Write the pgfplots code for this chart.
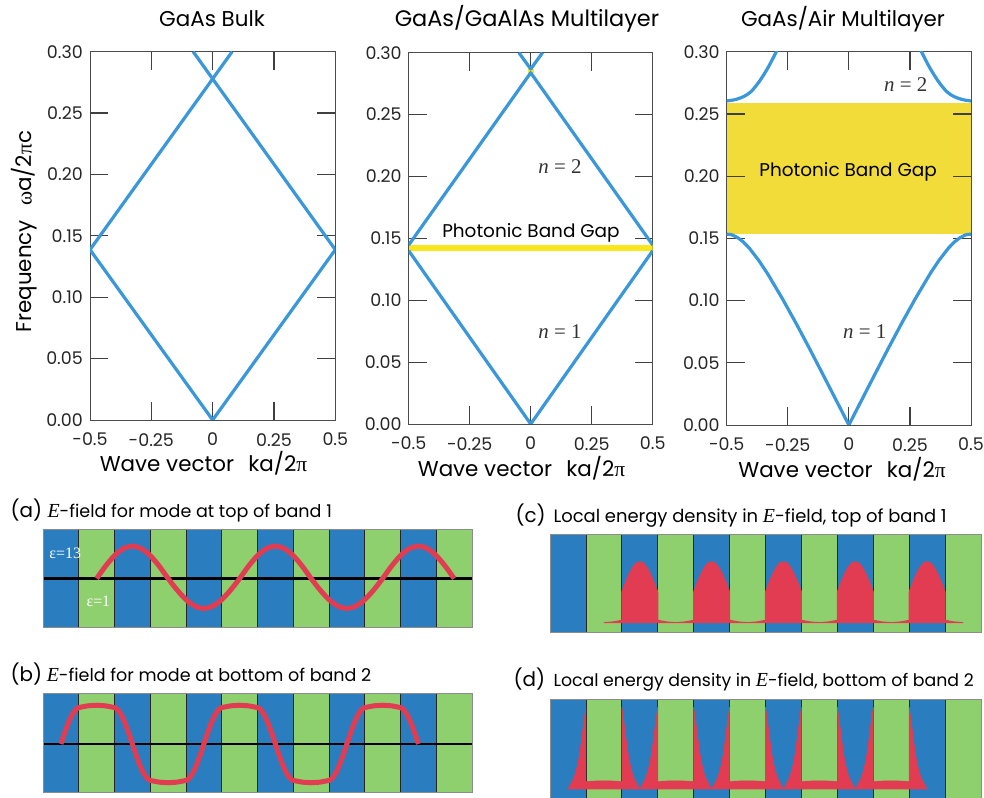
\documentclass[border=0pt]{standalone}
\usepackage{pgfplots}
\pgfplotsset{compat=1.18}
\usepackage{fontspec}
\setmainfont{Poppins}
\newfontfamily\serif{Liberation Serif}

\definecolor{bandblue}{HTML}{3A98DA}
\definecolor{gapyellow}{HTML}{F8E71C}
\definecolor{gapyellowB}{HTML}{F2DC3A}
\definecolor{layerblue}{HTML}{2A7EC0}
\definecolor{layergreen}{HTML}{8FD06E}
\definecolor{fieldred}{HTML}{E23C52}

\newcommand\fs[1]{\fontsize{#1}{#1}\selectfont}

\pgfplotsset{
  bandaxis/.style={
    scale only axis, width=245bp, height=370bp,
    xmin=-0.5, xmax=0.5, ymin=0, ymax=0.30,
    xtick={-0.5,-0.25,0,0.25,0.5}, xticklabels={-0.5,-0.25,0,0.25,0.5},
    ytick={0,0.05,0.1,0.15,0.2,0.25,0.3},
    yticklabels={0.00,0.05,0.10,0.15,0.20,0.25,0.30},
    major tick length=0pt,
    axis line style={draw=black!70, line width=0.8bp},
    ticklabel style={font=\fs{17.5}, inner sep=0pt, text=black!85},
    xticklabel style={anchor=north, yshift=-13bp},
    yticklabel style={anchor=east, xshift=-7bp},
  },
  bandline/.style={bandblue, line width=3.2bp, line join=round},
  layeraxis/.style={
    scale only axis, width=429bp, height=98bp,
    xmin=0, xmax=12,
    xtick=\empty, ytick=\empty,
    axis line style={draw=black!45, line width=0.8bp},
    axis on top,
  },
}

% inward tick marks on all four sides of a band diagram (lengths in data units)
\newcommand\bandticks{%
  \draw[black!75, line width=1.2bp]
    (axis cs:-0.25,0) -- (axis cs:-0.25,0.0146)
    (axis cs:0,0) -- (axis cs:0,0.0146)
    (axis cs:0.25,0) -- (axis cs:0.25,0.0146)
    (axis cs:-0.25,0.3) -- (axis cs:-0.25,0.2854)
    (axis cs:0,0.3) -- (axis cs:0,0.2854)
    (axis cs:0.25,0.3) -- (axis cs:0.25,0.2854)
    (axis cs:-0.5,0.05) -- (axis cs:-0.4265,0.05)
    (axis cs:-0.5,0.1) -- (axis cs:-0.4265,0.1)
    (axis cs:-0.5,0.15) -- (axis cs:-0.4265,0.15)
    (axis cs:-0.5,0.2) -- (axis cs:-0.4265,0.2)
    (axis cs:-0.5,0.25) -- (axis cs:-0.4265,0.25)
    (axis cs:0.5,0.05) -- (axis cs:0.4265,0.05)
    (axis cs:0.5,0.1) -- (axis cs:0.4265,0.1)
    (axis cs:0.5,0.15) -- (axis cs:0.4265,0.15)
    (axis cs:0.5,0.2) -- (axis cs:0.4265,0.2)
    (axis cs:0.5,0.25) -- (axis cs:0.4265,0.25);
}

% alternating dielectric layers, epsilon = 13 (blue) and epsilon = 1 (green)
\newcommand\layers{%
  \fill[layergreen] (rel axis cs:0,0) rectangle (rel axis cs:1,1);
  \fill[layerblue] (rel axis cs:0,0) rectangle (rel axis cs:0.083333,1);
  \fill[layerblue] (rel axis cs:0.166667,0) rectangle (rel axis cs:0.25,1);
  \fill[layerblue] (rel axis cs:0.333333,0) rectangle (rel axis cs:0.416667,1);
  \fill[layerblue] (rel axis cs:0.5,0) rectangle (rel axis cs:0.583333,1);
  \fill[layerblue] (rel axis cs:0.666667,0) rectangle (rel axis cs:0.75,1);
  \fill[layerblue] (rel axis cs:0.833333,0) rectangle (rel axis cs:0.916667,1);
  \draw[black!85, line width=0.7bp]
    (rel axis cs:0.083333,0) -- (rel axis cs:0.083333,1)
    (rel axis cs:0.166667,0) -- (rel axis cs:0.166667,1)
    (rel axis cs:0.25,0) -- (rel axis cs:0.25,1)
    (rel axis cs:0.333333,0) -- (rel axis cs:0.333333,1)
    (rel axis cs:0.416667,0) -- (rel axis cs:0.416667,1)
    (rel axis cs:0.5,0) -- (rel axis cs:0.5,1)
    (rel axis cs:0.583333,0) -- (rel axis cs:0.583333,1)
    (rel axis cs:0.666667,0) -- (rel axis cs:0.666667,1)
    (rel axis cs:0.75,0) -- (rel axis cs:0.75,1)
    (rel axis cs:0.833333,0) -- (rel axis cs:0.833333,1)
    (rel axis cs:0.916667,0) -- (rel axis cs:0.916667,1);
}

\begin{document}
\begin{tikzpicture}[x=1bp, y=1bp]
\path[use as bounding box, fill=white] (0,0) rectangle (984,798);

% ---------------- GaAs bulk ----------------
\begin{axis}[bandaxis, at={(90bp,378bp)}, anchor=south west, width=245.3bp, height=368.3bp]
  \bandticks
  \addplot[bandline] coordinates {(-0.5,0.1387) (0,0) (0.5,0.1387)};
  \addplot[bandline] coordinates {(-0.5,0.1387) (0.0795,0.300)};
  \addplot[bandline] coordinates {(0.5,0.1387) (-0.0795,0.300)};
\end{axis}

% ---------------- GaAs/GaAlAs multilayer ----------------
\begin{axis}[bandaxis, at={(408.7bp,374bp)}, anchor=south west, width=244bp, height=371.3bp]
  \bandticks
  \addplot[draw=none, fill=gapyellow] coordinates {(-0.5,0.1400) (0.5,0.1400) (0.5,0.1446) (-0.5,0.1446)} -- cycle;
  \addplot[draw=none, fill=gapyellow] coordinates {(-0.013,0.2838) (0.013,0.2838) (0.013,0.2868) (-0.013,0.2868)} -- cycle;
  \addplot[bandline] coordinates {(-0.5,0.1400) (0,0) (0.5,0.1400)};
  \addplot[bandline] coordinates {(-0.5,0.1446) (0,0.2838) (0.5,0.1446)};
  \addplot[bandline] coordinates {(-0.0485,0.300) (0,0.2868) (0.0485,0.300)};
  \node[font=\fs{18.5}, anchor=base] at (axis cs:0.001,0.1508) {Photonic Band Gap};
  \node[font=\serif\fs{21}, text=black!80] at (axis cs:0.12,0.2077) {\itshape n\upshape\ = 2};
  \node[font=\serif\fs{21}, text=black!80] at (axis cs:0.12,0.0743) {\itshape n\upshape\ = 1};
\end{axis}

% ---------------- GaAs/Air multilayer ----------------
\begin{axis}[bandaxis, at={(726.7bp,373bp)}, anchor=south west, width=244.3bp, height=373.3bp]
  \addplot[draw=none, fill=gapyellowB] coordinates {(-0.5,0.1532) (0.5,0.1532) (0.5,0.2590) (-0.5,0.2590)} -- cycle;
  \bandticks
  \addplot[bandline] coordinates {
    (-0.5,0.1533) (-0.4849,0.1531) (-0.4757,0.1526) (-0.455,0.1505) (-0.4345,0.1475)
    (-0.4087,0.1424) (-0.3686,0.1322) (-0.334,0.122) (-0.2726,0.1017) (-0.2152,0.0814)
    (-0.16,0.061) (-0.1064,0.0407) (-0.0531,0.0203) (0,0)
    (0.0531,0.0203) (0.1064,0.0407) (0.16,0.061) (0.2152,0.0814) (0.2726,0.1017)
    (0.334,0.122) (0.3686,0.1322) (0.4087,0.1424) (0.4345,0.1475) (0.455,0.1505)
    (0.4757,0.1526) (0.4849,0.1531) (0.5,0.1533)};
  \addplot[bandline, smooth] coordinates {
    (-0.5,0.2604) (-0.465,0.2615) (-0.43,0.2640) (-0.4,0.2680) (-0.365,0.2765)
    (-0.33,0.2875) (-0.297,0.300) (-0.285,0.305)};
  \addplot[bandline, smooth] coordinates {
    (0.5,0.2604) (0.465,0.2615) (0.43,0.2640) (0.4,0.2680) (0.365,0.2765)
    (0.33,0.2875) (0.297,0.300) (0.285,0.305)};
  \node[font=\fs{18.5}, anchor=base] at (axis cs:-0.003,0.1995) {Photonic Band Gap};
  \node[font=\serif\fs{21}, text=black!80] at (axis cs:0.233,0.2732) {\itshape n\upshape\ = 2};
  \node[font=\serif\fs{21}, text=black!80] at (axis cs:0.065,0.075) {\itshape n\upshape\ = 1};
\end{axis}

% titles and axis labels
\node[font=\fs{21.5}, anchor=base] at (212,771.3) {GaAs Bulk};
\node[font=\fs{22.5}, anchor=base] at (527,771.3) {GaAs/GaAlAs Multilayer};
\node[font=\fs{21.5}, anchor=base] at (843,771.3) {GaAs/Air Multilayer};
\node[font=\fs{21.5}, anchor=base] at (203.5,326.3) {Wave vector\hspace{0.4em} ka/2{\serif π}};
\node[font=\fs{21.5}, anchor=base] at (521.5,321.3) {Wave vector\hspace{0.4em} ka/2{\serif π}};
\node[font=\fs{21.5}, anchor=base] at (842,320.7) {Wave vector\hspace{0.4em} ka/2{\serif π}};
\node[font=\fs{21.5}, anchor=base, rotate=90] at (31.7,566.3) {Frequency\hspace{0.4em} {\serif ω}a/2{\serif π}c};

% ---------------- (a) field, top of band 1 ----------------
\begin{axis}[layeraxis, at={(43bp,170.5bp)}, anchor=south west, ymin=-1, ymax=1]
  \layers
  \addplot[black, line width=2.7bp] coordinates {(0,0) (12,0)};
  \addplot[fieldred, line width=5bp, smooth] coordinates {
    (1.5,0) (1.75,0.2526) (2,0.4667) (2.25,0.6098) (2.5,0.66) (2.75,0.6098) (3,0.4667) (3.25,0.2526)
    (3.5,0) (3.75,-0.2336) (4,-0.4313) (4.25,-0.5636) (4.5,-0.61) (4.75,-0.5636) (5,-0.4313) (5.25,-0.2336)
    (5.5,0) (5.75,0.2526) (6,0.4667) (6.25,0.6098) (6.5,0.66) (6.75,0.6098) (7,0.4667) (7.25,0.2526)
    (7.5,0) (7.75,-0.2336) (8,-0.4313) (8.25,-0.5636) (8.5,-0.61) (8.75,-0.5636) (9,-0.4313) (9.25,-0.2336)
    (9.5,0) (9.75,0.2526) (10,0.4667) (10.25,0.6098) (10.5,0.66) (10.75,0.6098) (11,0.4667) (11.25,0.2526)
    (11.5,0)};
  \node[font=\serif\fs{16}, text=white, anchor=base west] at (axis cs:0.08,0.40) {ε=13};
  \node[font=\serif\fs{16}, text=white, anchor=base west] at (axis cs:1.12,-0.57) {ε=1};
\end{axis}

% ---------------- (b) field, bottom of band 2 ----------------
\begin{axis}[layeraxis, at={(43bp,5.3bp)}, anchor=south west, height=99.4bp, ymin=-0.98, ymax=1.02]
  \layers
  \addplot[black, line width=2.7bp] coordinates {(0,0) (12,0)};
  \addplot[fieldred, line width=5bp, line join=round] coordinates {
    (0.5,0) (0.6,0.215) (0.7,0.412) (0.8,0.572) (0.9,0.682) (0.95,0.716) (1,0.733) (1.25,0.768) (1.5,0.78)
    (1.75,0.768) (2,0.733) (2.05,0.716) (2.1,0.682) (2.2,0.572) (2.3,0.412) (2.4,0.215)
    (2.5,0) (2.6,-0.215) (2.7,-0.412) (2.8,-0.572) (2.9,-0.682) (2.95,-0.716) (3,-0.733) (3.25,-0.768) (3.5,-0.78)
    (3.75,-0.768) (4,-0.733) (4.05,-0.716) (4.1,-0.682) (4.2,-0.572) (4.3,-0.412) (4.4,-0.215)
    (4.5,0) (4.6,0.215) (4.7,0.412) (4.8,0.572) (4.9,0.682) (4.95,0.716) (5,0.733) (5.25,0.768) (5.5,0.78)
    (5.75,0.768) (6,0.733) (6.05,0.716) (6.1,0.682) (6.2,0.572) (6.3,0.412) (6.4,0.215)
    (6.5,0) (6.6,-0.215) (6.7,-0.412) (6.8,-0.572) (6.9,-0.682) (6.95,-0.716) (7,-0.733) (7.25,-0.768) (7.5,-0.78)
    (7.75,-0.768) (8,-0.733) (8.05,-0.716) (8.1,-0.682) (8.2,-0.572) (8.3,-0.412) (8.4,-0.215)
    (8.5,0) (8.6,0.215) (8.7,0.412) (8.8,0.572) (8.9,0.682) (8.95,0.716) (9,0.733) (9.25,0.768) (9.5,0.78)
    (9.75,0.768) (10,0.733) (10.05,0.716) (10.1,0.682) (10.2,0.572) (10.3,0.412) (10.4,0.215)
    (10.5,0)};
\end{axis}

% ---------------- (c) energy density, top of band 1 ----------------
\begin{axis}[layeraxis, at={(550bp,165.3bp)}, anchor=south west, width=431bp, height=98.4bp, ymin=-0.164, ymax=1.449]
  \layers
  \addplot[fill=fieldred, draw=fieldred, line width=1.1bp] coordinates {
    (1.5,0) (1.75,0.0113) (2,0.0385)
    (2,0.5) (2.1,0.6545) (2.2,0.7939) (2.3,0.9045) (2.4,0.9755) (2.5,1) (2.6,0.9755) (2.7,0.9045) (2.8,0.7939) (2.9,0.6545) (3,0.5)
    (3,0.0385) (3.25,0.0113) (3.5,0) (3.75,0.0113) (4,0.0385)
    (4,0.5) (4.1,0.6545) (4.2,0.7939) (4.3,0.9045) (4.4,0.9755) (4.5,1) (4.6,0.9755) (4.7,0.9045) (4.8,0.7939) (4.9,0.6545) (5,0.5)
    (5,0.0385) (5.25,0.0113) (5.5,0) (5.75,0.0113) (6,0.0385)
    (6,0.5) (6.1,0.6545) (6.2,0.7939) (6.3,0.9045) (6.4,0.9755) (6.5,1) (6.6,0.9755) (6.7,0.9045) (6.8,0.7939) (6.9,0.6545) (7,0.5)
    (7,0.0385) (7.25,0.0113) (7.5,0) (7.75,0.0113) (8,0.0385)
    (8,0.5) (8.1,0.6545) (8.2,0.7939) (8.3,0.9045) (8.4,0.9755) (8.5,1) (8.6,0.9755) (8.7,0.9045) (8.8,0.7939) (8.9,0.6545) (9,0.5)
    (9,0.0385) (9.25,0.0113) (9.5,0) (9.75,0.0113) (10,0.0385)
    (10,0.5) (10.1,0.6545) (10.2,0.7939) (10.3,0.9045) (10.4,0.9755) (10.5,1) (10.6,0.9755) (10.7,0.9045) (10.8,0.7939) (10.9,0.6545) (11,0.5)
    (11,0.0385) (11.25,0.0113) (11.5,0)} \closedcycle;
\end{axis}

% ---------------- (d) energy density, bottom of band 2 ----------------
\begin{axis}[layeraxis, at={(550bp,-1bp)}, anchor=south west, width=431bp, height=100bp, ymin=-0.122, ymax=1.098]
  \layers
  \addplot[fill=fieldred, draw=fieldred, line width=0.6bp] coordinates {
    (0.5,0) (0.55,0.035) (0.6,0.08) (0.65,0.12) (0.7,0.18) (0.75,0.26) (0.8,0.36) (0.85,0.5) (0.9,0.67) (0.95,0.84) (1,1)
    (1,0.092) (1.25,0.097) (1.5,0.1) (1.75,0.097) (2,0.092)
    (2,1) (2.05,0.84) (2.1,0.67) (2.15,0.5) (2.2,0.36) (2.25,0.26) (2.3,0.18) (2.35,0.12) (2.4,0.08) (2.45,0.035)
    (2.5,0) (2.55,0.035) (2.6,0.08) (2.65,0.12) (2.7,0.18) (2.75,0.26) (2.8,0.36) (2.85,0.5) (2.9,0.67) (2.95,0.84) (3,1)
    (3,0.092) (3.25,0.097) (3.5,0.1) (3.75,0.097) (4,0.092)
    (4,1) (4.05,0.84) (4.1,0.67) (4.15,0.5) (4.2,0.36) (4.25,0.26) (4.3,0.18) (4.35,0.12) (4.4,0.08) (4.45,0.035)
    (4.5,0) (4.55,0.035) (4.6,0.08) (4.65,0.12) (4.7,0.18) (4.75,0.26) (4.8,0.36) (4.85,0.5) (4.9,0.67) (4.95,0.84) (5,1)
    (5,0.092) (5.25,0.097) (5.5,0.1) (5.75,0.097) (6,0.092)
    (6,1) (6.05,0.84) (6.1,0.67) (6.15,0.5) (6.2,0.36) (6.25,0.26) (6.3,0.18) (6.35,0.12) (6.4,0.08) (6.45,0.035)
    (6.5,0) (6.55,0.035) (6.6,0.08) (6.65,0.12) (6.7,0.18) (6.75,0.26) (6.8,0.36) (6.85,0.5) (6.9,0.67) (6.95,0.84) (7,1)
    (7,0.092) (7.25,0.097) (7.5,0.1) (7.75,0.097) (8,0.092)
    (8,1) (8.05,0.84) (8.1,0.67) (8.15,0.5) (8.2,0.36) (8.25,0.26) (8.3,0.18) (8.35,0.12) (8.4,0.08) (8.45,0.035)
    (8.5,0) (8.55,0.035) (8.6,0.08) (8.65,0.12) (8.7,0.18) (8.75,0.26) (8.8,0.36) (8.85,0.5) (8.9,0.67) (8.95,0.84) (9,1)
    (9,0.092) (9.25,0.097) (9.5,0.1) (9.75,0.097) (10,0.092)
    (10,1) (10.05,0.84) (10.1,0.67) (10.15,0.5) (10.2,0.36) (10.25,0.26) (10.3,0.18) (10.35,0.12) (10.4,0.08) (10.45,0.035)
    (10.5,0)} \closedcycle;
\end{axis}

% panel captions
\node[font=\fs{20}, anchor=base west] at (7,280.7) {(a)};
\node[font=\fs{17.6}, anchor=base west] at (44,280.7) {{\serif\itshape\fs{20}E}-field for mode at top of band 1};
\node[font=\fs{20}, anchor=base west] at (7,116.3) {(b)};
\node[font=\fs{17.6}, anchor=base west] at (43.3,116.3) {{\serif\itshape\fs{20}E}-field for mode at bottom of band 2};
\node[font=\fs{20}, anchor=base west] at (512,275.7) {(c)};
\node[font=\fs{18}, anchor=base west] at (550,275.7) {Local energy density in {\serif\itshape\fs{20}E}-field, top of band 1};
\node[font=\fs{20}, anchor=base west] at (510,111.3) {(d)};
\node[font=\fs{17.4}, anchor=base west] at (550,111.3) {Local energy density in {\serif\itshape\fs{20}E}-field, bottom of band 2};
\end{tikzpicture}
\end{document}
